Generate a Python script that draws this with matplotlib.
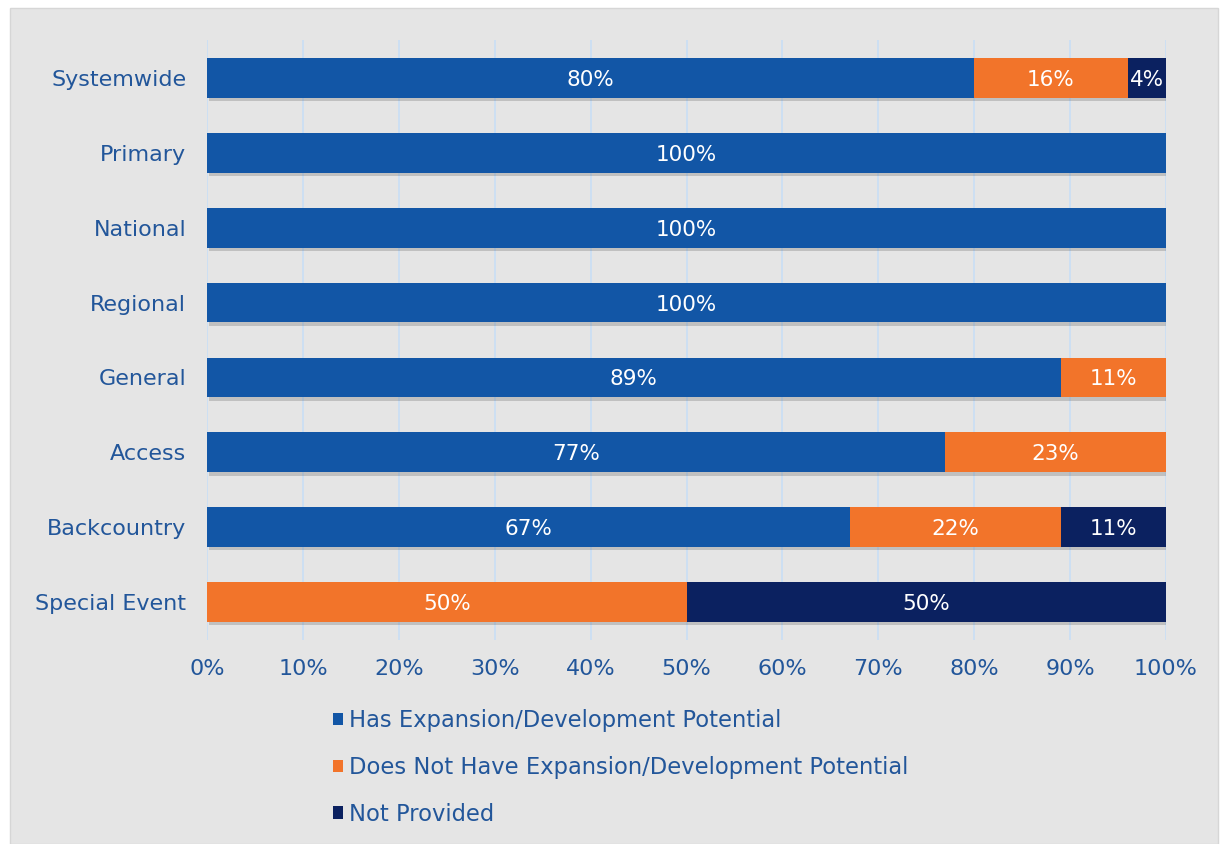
import matplotlib
matplotlib.use("Agg")
import matplotlib.pyplot as plt
import matplotlib.patheffects as pe
from matplotlib.patches import Rectangle
import numpy as np

BLUE, ORANGE, NAVY = "#1256a6", "#f2742a", "#0b2160"
TXT, GRID, PANEL = "#22569a", "#c9def5", "#e5e5e5"

categories = ["Systemwide", "Primary", "National", "Regional",
              "General", "Access", "Backcountry", "Special Event"]
has_potential = [80, 100, 100, 100, 89, 77, 67, 0]
no_potential = [16, 0, 0, 0, 11, 23, 22, 50]
not_provided = [4, 0, 0, 0, 0, 0, 11, 50]
series_names = ["Has Expansion/Development Potential",
                "Does Not Have Expansion/Development Potential",
                "Not Provided"]
xticks = np.arange(0, 101, 10)

plt.rcParams["font.family"] = ["DejaVu Sans"]

fig = plt.figure(figsize=(12.23, 8.44), dpi=100)
fig.patch.set_facecolor("white")
fig.patches.append(Rectangle((10 / 1223, 0), 1208 / 1223, 1 - 8 / 844,
                             transform=fig.transFigure, facecolor=PANEL,
                             edgecolor="#d6d6d6", lw=1, zorder=-5))

ax = fig.add_axes([207 / 1223, 1 - 640 / 844, 959 / 1223, 600 / 844])
ax.set_facecolor("none")
ax.set_zorder(2)

y = np.arange(len(categories))
shadow = [pe.SimplePatchShadow(offset=(1.5, -2.5), alpha=0.16, shadow_rgbFace="black"),
          pe.Normal()]
left = np.zeros(len(categories))
for vals, col, name in zip([has_potential, no_potential, not_provided],
                           [BLUE, ORANGE, NAVY], series_names):
    vals = np.array(vals, dtype=float)
    bars = ax.barh(y, vals, left=left, height=0.53, color=col, label=name,
                   zorder=3)
    for b in bars:
        b.set_path_effects(shadow)
    for yi, l, v in zip(y, left, vals):
        if v > 0:
            ax.text(l + v / 2, yi, f"{v:.0f}%", ha="center", va="center_baseline",
                    color="white", fontsize=15.5, zorder=4)
    left += vals

ax.set_xlim(0, 100)
ax.set_ylim(len(categories) - 0.493, -0.507)
ax.set_xticks(xticks)
ax.set_xticklabels([f"{t}%" for t in xticks])
ax.set_yticks(y)
ax.set_yticklabels(categories)
ax.tick_params(axis="x", length=0, pad=14, labelsize=16, labelcolor=TXT)
ax.tick_params(axis="y", length=0, pad=15, labelsize=16, labelcolor=TXT)
ax.grid(axis="x", color=GRID, lw=1.2, zorder=1)
ax.set_axisbelow(True)
for sp in ax.spines.values():
    sp.set_visible(False)

leg = fig.legend(loc="upper left", bbox_to_anchor=(333 / 1223, 1 - 709 / 844),
                 frameon=False, fontsize=16.3, labelcolor=TXT,
                 handlelength=0.45, handleheight=0.45, handletextpad=0.25,
                 labelspacing=1.05, borderpad=0, borderaxespad=0)
for h in leg.legend_handles:
    h.set_path_effects([])

fig.savefig("out.png", dpi=100, facecolor="white")
